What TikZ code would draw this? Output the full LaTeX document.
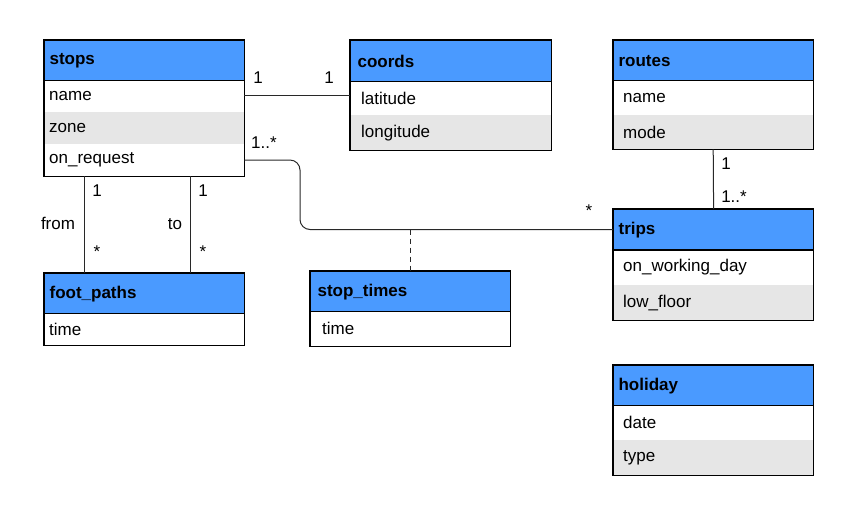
\documentclass[tikz,border=0pt]{standalone}
\usepackage{fontspec}
\setmainfont{Liberation Sans}
\definecolor{hdrblue}{RGB}{74,154,255}
\definecolor{rowgray}{RGB}{230,230,230}
\definecolor{conn}{RGB}{40,40,40}
\begin{document}
\begin{tikzpicture}[x=1pt,y=-1pt,
  every node/.style={font=\fontsize{17}{20}\selectfont},
  hdr/.style={anchor=north west, fill=hdrblue, draw=black, line width=1.2pt,
    minimum width=#1, text width=#1-10pt, inner xsep=5pt, inner ysep=0pt, align=left,
    font=\fontsize{17}{20}\selectfont\bfseries},
  hdr/.default=200pt,
  rowbox/.style={anchor=north west, minimum width=#1, text width=#1-10pt, inner xsep=5pt,
    inner ysep=0pt, align=left},
  rowbox/.default=200pt,
  wrow/.style={rowbox=#1, fill=white},
  wrow/.default=200pt,
  grow/.style={rowbox=#1, fill=rowgray},
  grow/.default=200pt,
  frame/.style={draw=black, line width=1.2pt},
  link/.style={draw=conn, line width=1pt},
  lbl/.style={inner sep=0pt, anchor=center}
]
\useasboundingbox (0,0) rectangle (853,515);

% stops
\node[wrow, minimum height=32pt] (stops-name) at (44,80) {name};
\node[grow, minimum height=32pt] (stops-zone) at (44,112) {zone};
\node[wrow, minimum height=32pt] (stops-onreq) at (44,144) {on\_request};
\node[hdr, minimum height=40pt] (stops-h) at (44,40) {stops};
\draw[frame] (stops-h.north west) rectangle (stops-onreq.south east);

% coords
\node[wrow=201pt, minimum height=34pt, text width=179pt, inner xsep=11pt] (coords-lat) at (350,81) {latitude};
\node[grow=201pt, minimum height=35pt, text width=179pt, inner xsep=11pt] (coords-lon) at (350,115) {longitude};
\node[hdr=201pt, minimum height=41pt, text width=187pt, inner xsep=7pt] (coords-h) at (350,40) {coords};
\draw[frame] (coords-h.north west) rectangle (coords-lon.south east);

% routes
\node[wrow, minimum height=35pt, text width=180pt, inner xsep=10pt] (routes-name) at (613,80) {name};
\node[grow, minimum height=34pt, text width=180pt, inner xsep=10pt] (routes-mode) at (613,115) {mode};
\node[hdr, minimum height=40pt] (routes-h) at (613,40) {routes};
\draw[frame] (routes-h.north west) rectangle (routes-mode.south east);
\draw[line width=2pt] (routes-h.north west) -- (routes-h.north east);

% trips
\node[wrow, minimum height=36pt, text width=180pt, inner xsep=10pt] (trips-wd) at (613,249) {on\_working\_day};
\node[grow, minimum height=35pt, text width=180pt, inner xsep=10pt] (trips-lf) at (613,285) {low\_floor};
\node[hdr, minimum height=40pt] (trips-h) at (613,209) {trips};
\draw[frame] (trips-h.north west) rectangle (trips-lf.south east);
\draw[line width=2pt] (trips-h.south west) -- (trips-h.south east);

% foot_paths
\node[wrow, minimum height=32pt] (fp-time) at (44,313) {time};
\node[hdr, minimum height=40pt] (fp-h) at (44,273) {foot\_paths};
\draw[frame] (fp-h.north west) rectangle (fp-time.south east);

% stop_times
\node[wrow, minimum height=35pt, text width=176pt, inner xsep=12pt] (st-time) at (310,311) {time};
\node[hdr, minimum height=40pt, text width=186pt, inner xsep=7pt] (st-h) at (310,271) {stop\_times};
\draw[frame] (st-h.north west) rectangle (st-time.south east);

% holiday
\node[wrow, minimum height=35pt, text width=180pt, inner xsep=10pt] (hol-date) at (613,405) {date};
\node[grow, minimum height=35pt, text width=180pt, inner xsep=10pt] (hol-type) at (613,440) {type};
\node[hdr, minimum height=40pt] (hol-h) at (613,365) {holiday};
\draw[frame] (hol-h.north west) rectangle (hol-type.south east);

% connectors
\draw[link] ([yshift=0.5pt]stops-name.east) -- ([yshift=0.5pt]stops-name.east -| coords-h.west);
\draw[link, rounded corners=10pt] ([yshift=0pt]stops-onreq.east) -- (300,160) -- (300,229.5) -- (trips-h.west |- 0,229.5);
\coordinate (mid) at (410,229.5);
\draw[link, dash pattern=on 5pt off 4pt] (mid) -- (mid |- st-h.north);
\draw[link] (routes-mode.south) -- (trips-h.north);
\draw[link] ([xshift=40pt]stops-onreq.south west) -- ([xshift=40pt]fp-h.north west);
\draw[link] ([xshift=146pt]stops-onreq.south west) -- ([xshift=146pt]fp-h.north west);

% labels
\node[lbl] (l1) at (258,78) {1};
\node[lbl] (l2) at (329,78) {1};
\node[lbl] (l3) at (264,143) {1..*};
\node[lbl] (l4) at (589,211) {*};
\node[lbl] (l5) at (726,164) {1};
\node[lbl] (l6) at (734,197) {1..*};
\node[lbl] (l7) at (97,191) {1};
\node[lbl] (l8) at (97,252) {*};
\node[lbl] (l9) at (58,223) {from};
\node[lbl] (l10) at (175,224) {to};
\node[lbl] (l11) at (203,191) {1};
\node[lbl] (l12) at (203,252) {*};
\end{tikzpicture}
\end{document}
